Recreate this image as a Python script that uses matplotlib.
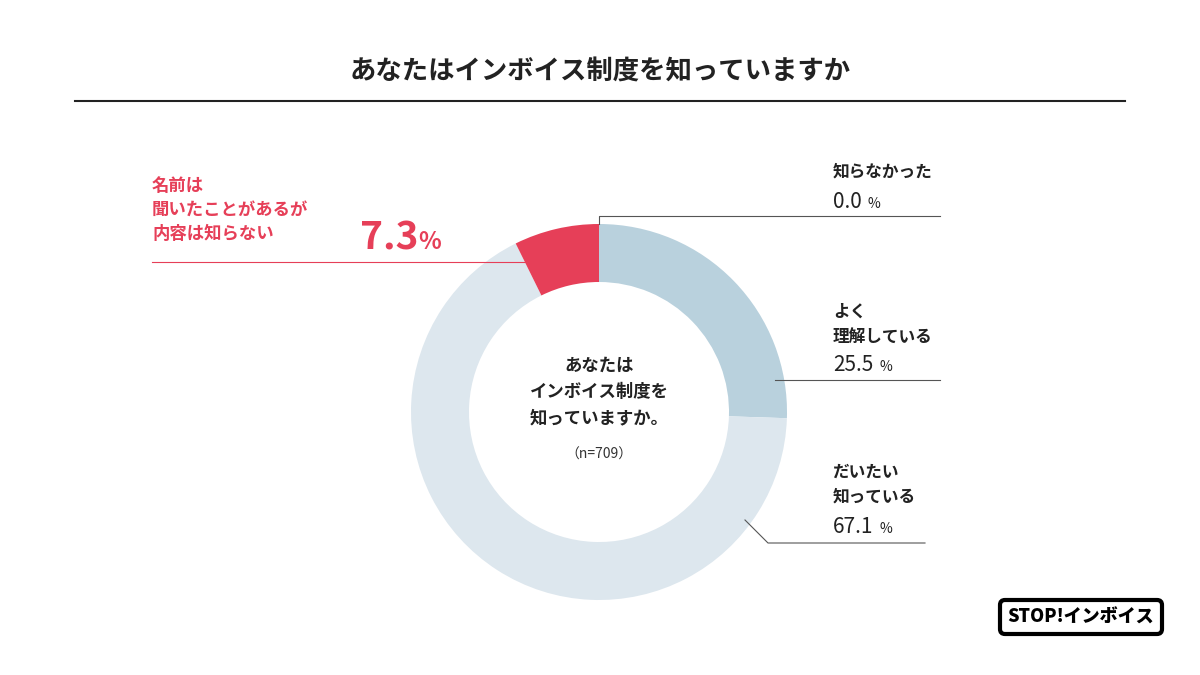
import matplotlib
matplotlib.use('Agg')
import matplotlib.pyplot as plt
from matplotlib.patches import FancyBboxPatch

plt.rcParams['font.family'] = ['Noto Sans CJK JP', 'DejaVu Sans']

TITLE = 'あなたはインボイス制度を知っていますか'
CATEGORIES = ['よく\n理解している', 'だいたい\n知っている', '名前は\n聞いたことがあるが\n内容は知らない', '知らなかった']
VALUES = [25.5, 67.1, 7.3, 0.0]
COLORS = ['#b9d1dd', '#dde7ee', '#e63f58', '#999999']
N = 709

H = 675
fig = plt.figure(figsize=(12, 6.75), dpi=100)
ax = fig.add_axes([0, 0, 1, 1])
ax.set_xlim(0, 1200)
ax.set_ylim(0, H)
ax.set_aspect('equal')
ax.axis('off')

cx, cy, r = 599, H - 412, 188
ax.pie(VALUES, colors=COLORS, startangle=90, counterclock=False,
       center=(cx, cy), radius=r, wedgeprops=dict(width=r - 130, linewidth=0),
       frame=True)
ax.set_xlim(0, 1200)
ax.set_ylim(0, H)
ax.axis('off')

# title
ax.text(600, H - 72, TITLE, ha='center', va='center', fontsize=19, fontweight='bold', color='#222222')
ax.plot([75, 1125], [H - 101, H - 101], color='#222222', lw=1.5)

# center text
ax.text(cx, H - 392, 'あなたは\nインボイス制度を\n知っていますか。', ha='center', va='center',
        fontsize=12.5, fontweight='bold', color='#222222', linespacing=1.6)
ax.text(cx, H - 455, f'（n={N}）', ha='center', va='center', fontsize=10, color='#333333')

lc = '#555555'
# 知らなかった
ax.plot([599, 599, 940], [H - 224, H - 216, H - 216], color=lc, lw=0.8)
ax.text(833, H - 172, CATEGORIES[3], fontsize=12, fontweight='bold', color='#222222', va='center')
ax.text(833, H - 202, f'{VALUES[3]:.1f}', fontsize=15, color='#222222', va='center')
ax.text(868, H - 204, '%', fontsize=10, color='#222222', va='center')

# よく理解している
ax.plot([775, 940], [H - 380, H - 380], color=lc, lw=0.8)
ax.text(833, H - 324, CATEGORIES[0], fontsize=12, fontweight='bold', color='#222222', va='center',
        linespacing=1.5)
ax.text(833, H - 365, f'{VALUES[0]:.1f}', fontsize=15, color='#222222', va='center')
ax.text(879, H - 367, '%', fontsize=10, color='#222222', va='center')

# だいたい知っている
ax.plot([745, 768, 925], [H - 520, H - 543, H - 543], color=lc, lw=0.8)
ax.text(833, H - 484, CATEGORIES[1], fontsize=12, fontweight='bold', color='#222222', va='center',
        linespacing=1.5)
ax.text(833, H - 527, f'{VALUES[1]:.1f}', fontsize=15, color='#222222', va='center')
ax.text(879, H - 529, '%', fontsize=10, color='#222222', va='center')

# 名前は聞いたことがあるが内容は知らない
red = '#e63f58'
ax.plot([152, 490, 535], [H - 262, H - 262, H - 262], color=red, lw=0.8)
ax.text(152, H - 210, CATEGORIES[2], fontsize=12.5, fontweight='bold', color=red, va='center',
        linespacing=1.45)
ax.text(360, H - 238, f'{VALUES[2]:.1f}', fontsize=28, fontweight='bold', color=red, va='center')
ax.text(418, H - 242, '%', fontsize=17, fontweight='bold', color=red, va='center')

# logo
ax.add_patch(FancyBboxPatch((1000, H - 634), 162, 34, boxstyle='round,pad=0,rounding_size=5',
                            fc='white', ec='black', lw=3))
ax.text(1081, H - 617, 'STOP!インボイス', ha='center', va='center', fontsize=13,
        fontweight='heavy', color='black')

fig.savefig('out.png', dpi=100)
